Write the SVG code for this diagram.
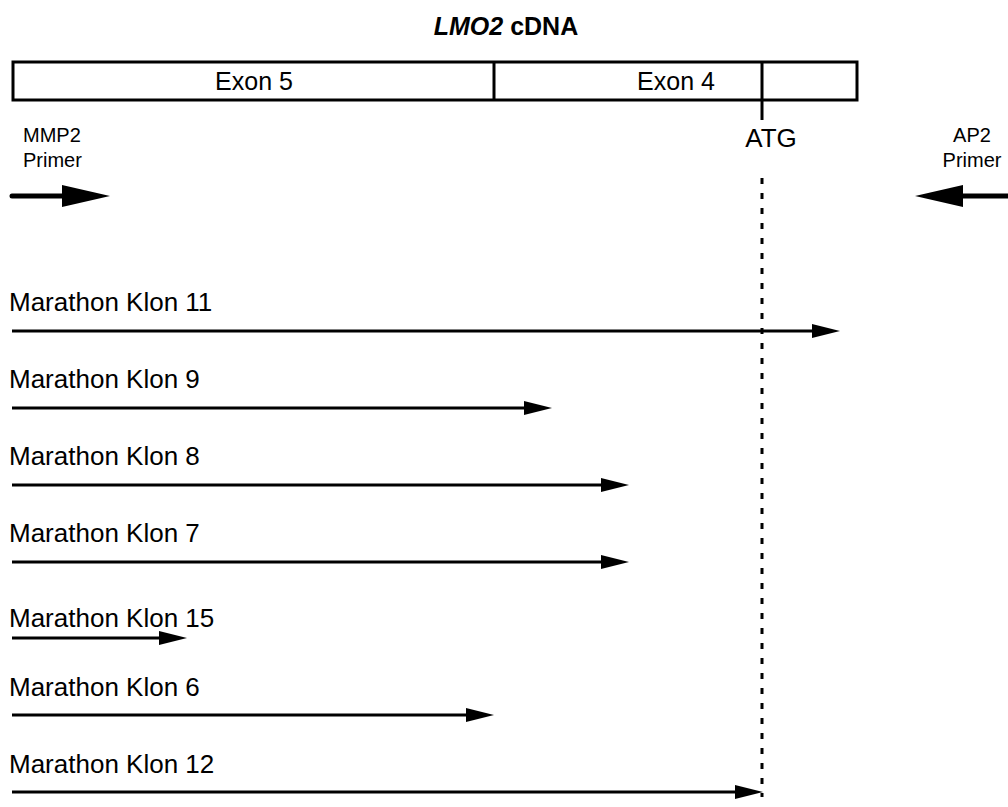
<svg xmlns="http://www.w3.org/2000/svg" width="1008" height="807" viewBox="0 0 1008 807">
<style>
text { font-family: "Liberation Sans", Arial, sans-serif; fill: #000; }
.lbl { font-size: 26px; }
.exon { font-size: 25px; }
.small { font-size: 20px; }
.thin { stroke: #000; stroke-width: 3; fill: none; }
.clone { stroke: #000; stroke-width: 3; }
.head { fill: #000; }
</style>
<rect width="1008" height="807" fill="#fff"/>
<g id="title">
<text x="506" y="35" text-anchor="middle" font-size="25" font-weight="bold"><tspan font-style="italic">LMO2</tspan> cDNA</text>
</g>
<g id="cdna">
<rect x="13" y="62" width="844" height="38" class="thin"/>
<line x1="494" y1="62" x2="494" y2="100" class="thin"/>
<line x1="762" y1="62" x2="762" y2="120" class="thin"/>
<text x="254" y="90" text-anchor="middle" class="exon">Exon 5</text>
<text x="676" y="90" text-anchor="middle" class="exon">Exon 4</text>
</g>
<g id="atg">
<text x="771" y="147" text-anchor="middle" class="lbl">ATG</text>
</g>
<g id="mmp2">
<text x="23" y="142" class="small">MMP2</text>
<text x="23" y="167" class="small">Primer</text>
<line x1="12" y1="196" x2="64" y2="196" stroke="#000" stroke-width="5" stroke-linecap="round"/>
<polygon points="62,185 110,196 62,207" class="head"/>
</g>
<g id="ap2">
<text x="972" y="142" text-anchor="middle" class="small">AP2</text>
<text x="972" y="167" text-anchor="middle" class="small">Primer</text>
<line x1="960" y1="196" x2="1010" y2="196" stroke="#000" stroke-width="5"/>
<polygon points="963,185 915,196 963,207" class="head"/>
</g>
<g id="connectors">
<line x1="762" y1="178" x2="762" y2="797" stroke="#000" stroke-width="3" stroke-dasharray="6 9"/>
</g>
<g id="klon11">
<text x="9" y="311" class="lbl">Marathon Klon 11</text>
<line x1="12" y1="331" x2="814" y2="331" class="clone"/>
<polygon points="812,324 840,331 812,338" class="head"/>
</g>
<g id="klon9">
<text x="9" y="388" class="lbl">Marathon Klon 9</text>
<line x1="12" y1="408" x2="526" y2="408" class="clone"/>
<polygon points="524,401 552,408 524,415" class="head"/>
</g>
<g id="klon8">
<text x="9" y="465" class="lbl">Marathon Klon 8</text>
<line x1="12" y1="485" x2="603" y2="485" class="clone"/>
<polygon points="601,478 629,485 601,492" class="head"/>
</g>
<g id="klon7">
<text x="9" y="542" class="lbl">Marathon Klon 7</text>
<line x1="12" y1="562" x2="603" y2="562" class="clone"/>
<polygon points="601,555 629,562 601,569" class="head"/>
</g>
<g id="klon15">
<text x="9" y="627" class="lbl">Marathon Klon 15</text>
<line x1="12" y1="638" x2="161" y2="638" class="clone"/>
<polygon points="159,631 187,638 159,645" class="head"/>
</g>
<g id="klon6">
<text x="9" y="696" class="lbl">Marathon Klon 6</text>
<line x1="12" y1="715" x2="468" y2="715" class="clone"/>
<polygon points="466,708 494,715 466,722" class="head"/>
</g>
<g id="klon12">
<text x="9" y="773" class="lbl">Marathon Klon 12</text>
<line x1="12" y1="792" x2="737" y2="792" class="clone"/>
<polygon points="735,785 763,792 735,799" class="head"/>
</g>
</svg>
